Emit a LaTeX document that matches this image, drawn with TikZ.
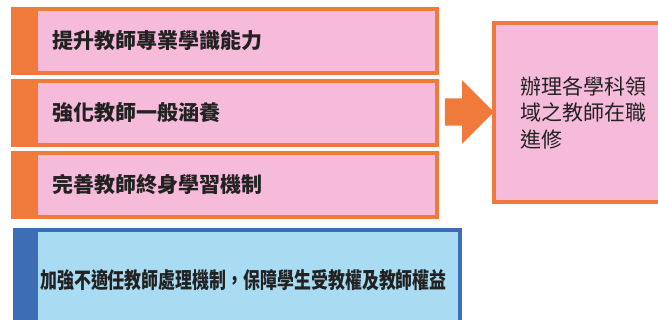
\documentclass[tikz,border=0pt]{standalone}
\usepackage{fontspec}
\newfontfamily\cjk{Noto Sans CJK TC}
\usepackage{tikz}
\usetikzlibrary{shapes.arrows}

\definecolor{boxorange}{HTML}{F07A3C}
\definecolor{boxpink}{HTML}{F6BADA}
\definecolor{boxblue}{HTML}{3D6DB5}
\definecolor{boxsky}{HTML}{A9DCF3}
\definecolor{inktext}{HTML}{222222}

\tikzset{
  goalbox/.style={draw=boxorange, fill=boxpink, line width=4pt,
    minimum width=424pt, minimum height=64pt, text width=346pt,
    inner xsep=39pt, align=left, text=inktext,
    font=\cjk\bfseries\fontsize{21}{25}\selectfont,
    path picture={\fill[boxorange] (path picture bounding box.north west)
      rectangle ([xshift=25pt]path picture bounding box.south west);}},
}

\begin{document}
\begin{tikzpicture}[x=1pt, y=-1pt]
        \useasboundingbox (0,0) rectangle (658,320);

        % Goal boxes:
        \node [goalbox] (skill) at (225,41)  {提升教師專業學識能力};
        \node [goalbox] (culture) at (225,113) {強化教師一般涵養};
        \node [goalbox] (lifelong) at (225,185) {完善教師終身學習機制};

        % Arrow to the result box
        \node [single arrow, fill=boxorange, inner xsep=0pt, inner ysep=13.5pt,
               single arrow head extend=18pt, minimum width=63pt,
               minimum height=49pt] (arrow) at (462.5,112) {};

        % Result box:
        \node [draw=boxorange, fill=boxpink, line width=4pt, anchor=west,
               minimum height=179pt, text width=140pt, inner xsep=26pt,
               align=left, text=inktext,
               font=\cjk\fontsize{21}{26.5}\selectfont] (study) at (492,112.5)
               {辦理各學科領\\域之教師在職\\進修};

        % Bottom box
        \node [draw=boxblue, fill=boxsky, line width=4pt, anchor=north west,
               minimum width=445pt, minimum height=110pt,
               path picture={\fill[boxblue] (path picture bounding box.north west)
                 rectangle ([xshift=23pt]path picture bounding box.south west);}]
               (protect) at (13,228) {};
        \node [anchor=west, inner sep=0pt, text=inktext,
               font=\cjk\bfseries\fontsize{22}{25}\selectfont]
               (protectlbl) at (40,280)
               {\scalebox{0.77}[1]{加強不適任教師處理機制，保障學生受教權及教師權益}};

    \end{tikzpicture}
\end{document}
